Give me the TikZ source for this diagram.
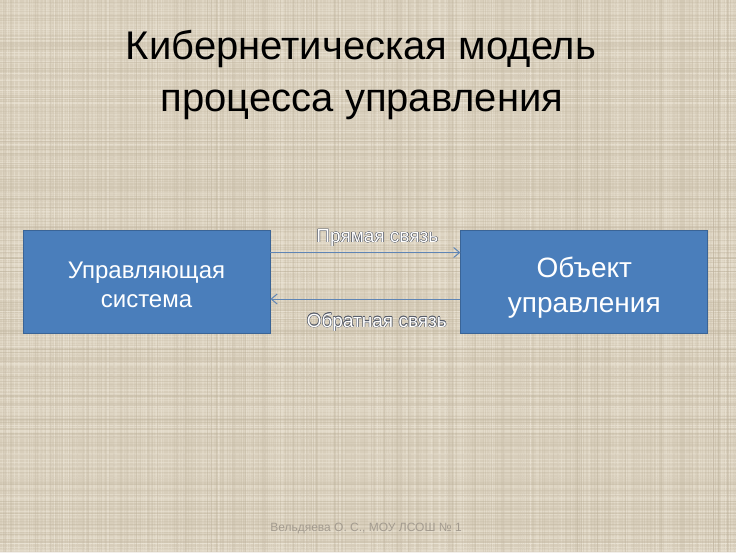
\documentclass[tikz,border=0pt]{standalone}
\usepackage{fontspec}
\setmainfont{Liberation Sans}
\usetikzlibrary{arrows.meta,positioning}

\definecolor{canvas}{HTML}{D8CEBB}
\definecolor{threadlight}{HTML}{EDE6D8}
\definecolor{threaddark}{HTML}{BDB09A}
\definecolor{boxblue}{HTML}{4A7EBB}
\definecolor{boxedge}{HTML}{3A6496}
\definecolor{linkblue}{HTML}{5F85B5}
\definecolor{ringc}{HTML}{555B68}
\definecolor{footgrey}{HTML}{A39B8F}

\newcommand{\ringtext}[1]{%
	\rlap{\color{ringc}\hspace*{-.45pt}#1}%
	\rlap{\color{ringc}\hspace*{.45pt}#1}%
	\rlap{\color{ringc}\raisebox{.45pt}{#1}}%
	\rlap{\color{ringc}\raisebox{-.45pt}{#1}}%
	\rlap{\color{ringc}\hspace*{-.32pt}\raisebox{.32pt}{#1}}%
	\rlap{\color{ringc}\hspace*{.32pt}\raisebox{-.32pt}{#1}}%
	\rlap{\color{ringc}\hspace*{.32pt}\raisebox{.32pt}{#1}}%
	\rlap{\color{ringc}\hspace*{-.32pt}\raisebox{-.32pt}{#1}}%
	{\color{white}#1}}

\tikzset{
	block/.style={
			draw=boxedge, fill=boxblue, line width=0.8pt,
			minimum width=247pt, minimum height=103pt, inner sep=0pt
		},
	blocktext/.style={text=white, align=center, inner sep=0pt},
	link/.style={-{Straight Barb[length=6pt, width=10pt, line width=1pt]}, draw=linkblue, line width=0.9pt},
	linklabel/.style={font=\fontsize{19}{21}\selectfont, inner sep=0pt, anchor=base}
}

\begin{document}
\begin{tikzpicture}[x=1pt, y=-1pt]
		\useasboundingbox (0, 0) rectangle (736, 552);
		\fill[canvas] (0, 0) rectangle (736, 552);

		\pgfmathsetseed{42}
		\foreach \i in {1,...,420}{
				\pgfmathsetmacro{\xx}{736*rnd}
				\pgfmathsetmacro{\ww}{0.3+0.6*rnd}
				\draw[threadlight, opacity=0.3, line width=\ww pt] (\xx, 0) -- (\xx, 552);
				\pgfmathsetmacro{\yy}{552*rnd}
				\draw[threadlight, opacity=0.3, line width=\ww pt] (0, \yy) -- (736, \yy);
			}
		\foreach \i in {1,...,300}{
				\pgfmathsetmacro{\xx}{736*rnd}
				\pgfmathsetmacro{\ww}{0.3+0.5*rnd}
				\draw[threaddark, opacity=0.2, line width=\ww pt] (\xx, 0) -- (\xx, 552);
				\pgfmathsetmacro{\yy}{552*rnd}
				\draw[threaddark, opacity=0.2, line width=\ww pt] (0, \yy) -- (736, \yy);
			}

		\node[anchor=base, font=\fontsize{40}{48}\selectfont] (title1) at (361, 59) {Кибернетическая модель};
		\node[anchor=base, font=\fontsize{40}{48}\selectfont] (title2) at (362, 111) {процесса управления};

		\node[block] (ctrl) at (146.5, 281.5) {};
		\node[block, right=190pt of ctrl] (obj) {};
		\node[blocktext, font=\fontsize{24}{29}\selectfont, yshift=-3pt] (ctrltext) at (ctrl) {Управляющая\\система};
		\node[blocktext, font=\fontsize{28}{35}\selectfont, yshift=-6pt] (objtext) at (obj) {Объект\\управления};

		\draw[link] ([yshift=29pt]ctrl.east) -- ([yshift=29pt]obj.west)
			node[linklabel, pos=0.563, yshift=10pt] (fwd) {\ringtext{Прямая связь}};
		\draw[link] ([yshift=-17.5pt]obj.west) -- ([yshift=-17.5pt]ctrl.east)
			node[linklabel, pos=0.44, yshift=-28pt] (back) {\ringtext{Обратная связь}};

		\node[anchor=base, font=\fontsize{12}{14}\selectfont, text=footgrey] (foot) at (366, 531) {Вельдяева О. С., МОУ ЛСОШ № 1};
\end{tikzpicture}
\end{document}
